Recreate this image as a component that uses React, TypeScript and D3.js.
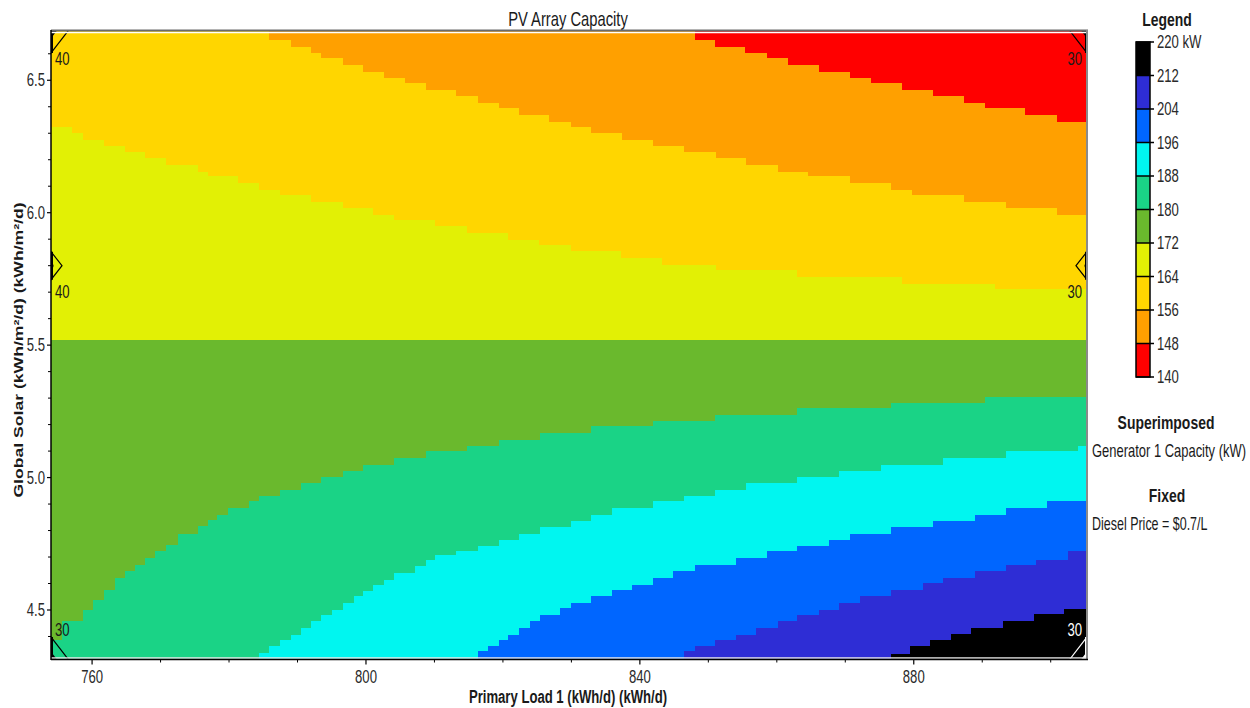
import React from 'react';
import * as d3 from 'd3';

type Pt = [number, number];

// ---------- data ----------
const loadDomain: Pt = [754, 905.3];
const solarDomain: Pt = [4.315, 6.686];
const xTicks = [760, 800, 840, 880];
const xMinorTicks = [770, 780, 790, 810, 820, 830, 850, 860, 870, 890, 900];
const yTicks = [4.5, 5.0, 5.5, 6.0, 6.5];
const yMinorTicks = [4.4, 4.6, 4.7, 4.8, 4.9, 5.1, 5.2, 5.3, 5.4, 5.6, 5.7, 5.8, 5.9, 6.1, 6.2, 6.3, 6.4, 6.6];
const legendLevels = [140, 148, 156, 164, 172, 180, 188, 196, 204, 212, 220];
const bandColors = ['#ff0000', '#ffa000', '#ffd600', '#e2f005', '#6ab92d', '#1ad386', '#00f6f0', '#0066ff', '#2e2dd5', '#000000'];

// contour boundaries (load kWh/d, solar kWh/m2/d): value >= level below the line
const contour148: Pt[] = [[754, 6.686], [848.0, 6.652], [851.0, 6.627], [855.4, 6.602], [858.6, 6.583], [861.6, 6.558], [866.1, 6.533], [870.7, 6.508], [873.7, 6.489], [878.3, 6.464], [882.8, 6.439], [887.3, 6.413], [890.4, 6.395], [896.3, 6.369], [900.9, 6.344]];
const contour156: Pt[] = [[754, 6.686], [785.9, 6.652], [789.0, 6.627], [792.0, 6.602], [793.5, 6.583], [796.6, 6.558], [799.5, 6.533], [802.6, 6.508], [805.7, 6.489], [808.7, 6.464], [813.2, 6.439], [816.3, 6.413], [819.4, 6.395], [822.3, 6.369], [826.8, 6.344], [829.9, 6.325], [832.8, 6.300], [837.4, 6.275], [841.9, 6.250], [846.5, 6.231], [851.1, 6.206], [855.5, 6.181], [860.1, 6.155], [864.6, 6.137], [870.7, 6.111], [876.7, 6.086], [879.8, 6.067], [887.3, 6.042], [893.4, 6.017], [900.9, 5.992]];
const contour164: Pt[] = [[754, 6.325], [757.1, 6.300], [758.7, 6.275], [761.7, 6.250], [764.8, 6.231], [767.7, 6.206], [770.8, 6.181], [775.4, 6.155], [776.9, 6.137], [781.3, 6.111], [784.4, 6.086], [787.4, 6.067], [792.0, 6.042], [796.6, 6.017], [801.0, 5.992], [804.1, 5.973], [810.1, 5.948], [814.7, 5.923], [820.7, 5.898], [825.2, 5.879], [829.9, 5.854], [837.3, 5.828], [843.3, 5.803], [851.1, 5.782], [863.0, 5.757], [878.3, 5.732], [891.9, 5.713]];
const contour172: Pt[] = [[754, 5.52], [905.3, 5.52]];
const contour180: Pt[] = [[754, 4.388], [755.6, 4.457], [758.7, 4.501], [760.2, 4.539], [761.7, 4.577], [763.3, 4.621], [764.8, 4.646], [766.3, 4.671], [767.7, 4.696], [769.2, 4.721], [770.8, 4.747], [772.5, 4.788], [775.4, 4.816], [776.9, 4.841], [778.3, 4.860], [779.8, 4.885], [782.9, 4.910], [784.4, 4.929], [787.4, 4.954], [790.5, 4.979], [793.4, 5.004], [796.7, 5.023], [799.5, 5.048], [804.1, 5.074], [808.7, 5.099], [814.8, 5.118], [819.4, 5.143], [825.4, 5.168], [832.8, 5.193], [841.9, 5.212], [851.0, 5.237], [863.0, 5.262], [876.7, 5.281], [890.4, 5.306]];
const contour188: Pt[] = [[784.4, 4.338], [785.9, 4.363], [787.4, 4.388], [789.0, 4.407], [790.5, 4.432], [792.0, 4.457], [793.4, 4.482], [795.1, 4.501], [796.7, 4.526], [798.2, 4.552], [799.5, 4.570], [801.0, 4.596], [802.6, 4.614], [804.1, 4.640], [807.2, 4.665], [808.7, 4.690], [810.1, 4.709], [813.2, 4.721], [816.3, 4.740], [819.4, 4.765], [822.4, 4.787], [825.4, 4.812], [829.9, 4.835], [832.8, 4.860], [835.9, 4.885], [841.9, 4.910], [846.5, 4.929], [851.0, 4.954], [855.5, 4.979], [863.0, 5.004], [869.1, 5.023], [875.2, 5.048], [884.2, 5.074], [893.4, 5.099], [904.0, 5.118]];
const contour196: Pt[] = [[816.3, 4.344], [817.8, 4.363], [819.4, 4.388], [820.8, 4.407], [822.3, 4.432], [823.9, 4.457], [825.4, 4.482], [828.4, 4.508], [829.9, 4.526], [832.8, 4.552], [835.9, 4.577], [838.9, 4.596], [841.9, 4.621], [844.9, 4.646], [848.0, 4.671], [854.0, 4.696], [858.6, 4.721], [863.0, 4.740], [867.6, 4.765], [870.7, 4.787], [876.7, 4.812], [882.8, 4.835], [888.9, 4.860], [893.4, 4.885], [899.4, 4.910]];
const contour204: Pt[] = [[846.5, 4.344], [848.0, 4.363], [851.0, 4.388], [854.0, 4.407], [857.0, 4.432], [860.1, 4.457], [863.0, 4.482], [866.1, 4.501], [869.1, 4.526], [872.2, 4.552], [876.7, 4.577], [881.3, 4.602], [884.2, 4.621], [888.9, 4.646], [893.4, 4.671], [897.9, 4.690], [902.5, 4.721]];
const contour212: Pt[] = [[876.7, 4.335], [879.5, 4.365], [882.3, 4.388], [885.5, 4.410], [888.4, 4.433], [893.0, 4.460], [897.5, 4.486], [902.0, 4.505]];
const contours: Pt[][] = [contour148, contour156, contour164, contour172, contour180, contour188, contour196, contour204, contour212];

// superimposed generator capacity (kW)
const superLoad = [754, 754, 754, 905.3, 905.3, 905.3];
const superSolar = [6.686, 5.8, 4.315, 6.686, 5.8, 4.315];
const superValue = [40, 40, 30, 30, 30, 30];

const FONT = "'Liberation Sans', Arial, sans-serif";

function boundaryAt(pts: Pt[], xv: number): number {
  if (xv < pts[0][0]) return solarDomain[0];
  let yv = pts[0][1];
  for (const p of pts) if (p[0] <= xv) yv = p[1];
  return yv;
}

type STProps = {
  x: number; y: number; size: number; sx?: number; sy?: number; rot?: number;
  anchor?: 'start' | 'middle' | 'end'; weight?: string; fill?: string; children: React.ReactNode;
};
function ST({ x, y, size, sx = 0.82, sy = 1.1, rot = 0, anchor = 'start', weight = 'normal', fill = '#1a1a1a', children }: STProps) {
  return (
    <text transform={`translate(${x},${y}) rotate(${rot}) scale(${sx},${sy})`} fontSize={size} fontWeight={weight} textAnchor={anchor} fill={fill}>
      {children}
    </text>
  );
}

export default function App() {
  const L = 51, R = 1087, T = 31, B = 659;
  const x = d3.scaleLinear().domain(loadDomain).range([L, R]);
  const y = d3.scaleLinear().domain(solarDomain).range([B, T]);
  const area = d3.area<Pt>().x(d => x(d[0])).y0(B).y1(d => y(d[1])).curve(d3.curveStepAfter);
  const extend = (pts: Pt[]): Pt[] => [...pts, [loadDomain[1], pts[pts.length - 1][1]]];

  const legY = d3.scaleLinear().domain([140, 220]).range([377, 42]);
  const LX0 = 1136, LX1 = 1150;

  const regionOf = (i: number) => {
    let region = 0;
    contours.forEach(c => { if (superSolar[i] < boundaryAt(c, superLoad[i])) region++; });
    return region;
  };

  return (
    <svg width={1250} height={708} style={{ position: 'absolute', left: 0, top: 0, background: '#fff' }} fontFamily={FONT}>
      <defs>
        <clipPath id="plotClip"><rect x={L} y={T} width={R - L} height={B - T} /></clipPath>
      </defs>
      <ST x={568} y={26} size={18} anchor="middle">PV Array Capacity</ST>

      <g clipPath="url(#plotClip)" shapeRendering="crispEdges">
        <rect x={L} y={T} width={R - L} height={B - T} fill={bandColors[0]} />
        {contours.map((pts, i) => (
          <path key={i} d={area(extend(pts)) || ''} fill={bandColors[i + 1]} />
        ))}
      </g>

      {/* superimposed markers */}
      <g clipPath="url(#plotClip)">
        {superValue.map((v, i) => {
          const cx = x(superLoad[i]);
          const cy = y(superSolar[i]);
          const corner = superSolar[i] === solarDomain[0] || superSolar[i] === solarDomain[1];
          const hw = corner ? 17 : 11;
          const hh = corner ? 22 : 14;
          const col = regionOf(i) === 9 ? '#ffffff' : '#000000';
          const pts = `${cx - hw},${cy} ${cx},${cy - hh} ${cx + hw},${cy} ${cx},${cy + hh}`;
          const sp = `${cx - hw / 3},${cy} ${cx},${cy - hh / 3} ${cx + hw / 3},${cy} ${cx},${cy + hh / 3}`;
          return (
            <g key={i}>
              <polygon points={pts} fill="none" stroke={col} strokeWidth={1.2} />
              {corner ? <polygon points={sp} fill={col} /> : <circle cx={cx} cy={cy} r={2.5} fill={col} />}
              <line x1={cx} x2={cx} y1={cy - hh} y2={cy + hh} stroke={col} strokeWidth={4} />
            </g>
          );
        })}
      </g>
      {superValue.map((v, i) => {
        const cx = x(superLoad[i]);
        const cy = y(superSolar[i]);
        const left = superLoad[i] === loadDomain[0];
        const bottom = superSolar[i] === solarDomain[0];
        const col = regionOf(i) === 9 ? '#ffffff' : '#1a1a1a';
        const ty = bottom ? cy - 23 : (superSolar[i] === solarDomain[1] ? cy + 34 : cy + 32);
        return (
          <ST key={'sl' + i} x={left ? cx + 4 : cx - 5} y={ty} size={16} anchor={left ? 'start' : 'end'} fill={col}>{v}</ST>
        );
      })}

      {/* frame */}
      <line x1={L} x2={R} y1={T + 1.5} y2={T + 1.5} stroke="#fff" strokeWidth={1.5} />
      <line x1={L} x2={R} y1={B - 1} y2={B - 1} stroke="#e8e8e8" strokeWidth={1.5} />
      <line x1={L} x2={R + 1} y1={T - 0.5} y2={T - 0.5} stroke="#6a6a6a" strokeWidth={2} />
      <line x1={R} x2={R} y1={T - 1} y2={B} stroke="#8a8a8a" strokeWidth={2} />
      <line x1={L} x2={L} y1={T - 1} y2={B + 1} stroke="#000" strokeWidth={1.5} />
      <line x1={L} x2={R + 1} y1={B + 0.5} y2={B + 0.5} stroke="#000" strokeWidth={1.5} />

      {/* y axis */}
      {yMinorTicks.map(t => (
        <line key={'ym' + t} x1={L - 3} x2={L} y1={y(t)} y2={y(t)} stroke="#000" strokeWidth={1} />
      ))}
      {yTicks.map(t => (
        <g key={'y' + t}>
          <line x1={L - 4} x2={L} y1={y(t)} y2={y(t)} stroke="#000" strokeWidth={1.2} />
          <ST x={45} y={y(t) + 6.2} size={16} anchor="end" fill="#2a2a2a">{t.toFixed(1)}</ST>
        </g>
      ))}
      {/* x axis */}
      {xMinorTicks.map(t => (
        <line key={'xm' + t} x1={x(t)} x2={x(t)} y1={B} y2={B + 3.5} stroke="#000" strokeWidth={1} />
      ))}
      {xTicks.map(t => (
        <g key={'x' + t}>
          <line x1={x(t)} x2={x(t)} y1={B} y2={B + 5.5} stroke="#000" strokeWidth={1.2} />
          <ST x={x(t)} y={683} size={16} anchor="middle" fill="#2a2a2a">{t}</ST>
        </g>
      ))}
      <ST x={568} y={703} size={16} anchor="middle" weight="bold">Primary Load 1 (kWh/d) (kWh/d)</ST>
      <ST x={23} y={350} size={16} rot={-90} sx={1.1} sy={0.82} anchor="middle" weight="bold">Global Solar (kWh/m²/d) (kWh/m²/d)</ST>

      {/* legend */}
      <ST x={1167} y={26} size={17} anchor="middle" weight="bold">Legend</ST>
      {bandColors.map((c, i) => (
        <rect key={'lb' + i} x={LX0} y={legY(legendLevels[i + 1])} width={LX1 - LX0} height={legY(legendLevels[i]) - legY(legendLevels[i + 1])} fill={c} />
      ))}
      <rect x={LX0} y={legY(220)} width={LX1 - LX0} height={legY(140) - legY(220)} fill="none" stroke="#000" strokeWidth={1.5} />
      {legendLevels.map((lv, i) => (
        <g key={'ll' + lv}>
          <line x1={LX0} x2={LX1 + 4} y1={legY(lv)} y2={legY(lv)} stroke="#000" strokeWidth={1.5} />
          <ST x={1157} y={legY(lv) + 6.2} size={16} fill="#2a2a2a">{i === legendLevels.length - 1 ? `${lv} kW` : lv}</ST>
        </g>
      ))}
      <ST x={1166} y={429} size={17} anchor="middle" weight="bold">Superimposed</ST>
      <ST x={1092} y={457} size={16} sx={0.81}>Generator 1 Capacity (kW)</ST>
      <ST x={1167} y={502} size={17} anchor="middle" weight="bold">Fixed</ST>
      <ST x={1092} y={530} size={16} sx={0.78}>Diesel Price = $0.7/L</ST>
    </svg>
  );
}
